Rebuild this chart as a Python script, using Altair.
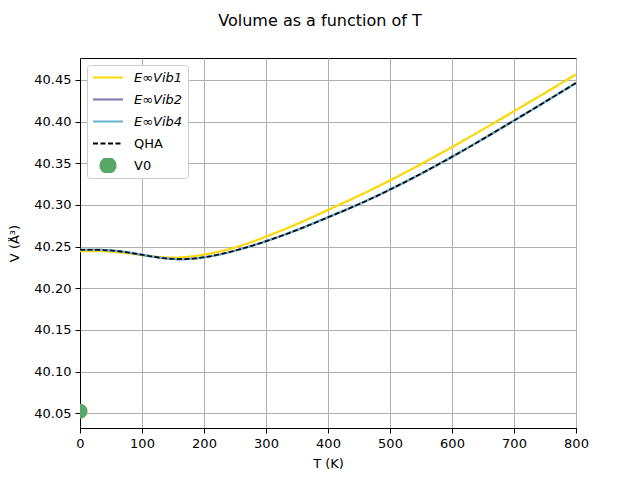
import altair as alt
import pandas as pd

# Temperature grid (K)
T = [0, 50, 100, 150, 200, 250, 300, 350, 400, 450, 500, 550, 600, 650, 700, 750, 800]

# Volumes (Å^3)
vib1 = [40.2446, 40.2440, 40.2398, 40.2368, 40.2405, 40.2490, 40.2620, 40.2772, 40.2940,
        40.3112, 40.3295, 40.3490, 40.3695, 40.3907, 40.4125, 40.4345, 40.4567]
vib2 = [40.2462, 40.2454, 40.2402, 40.2352, 40.2372, 40.2452, 40.2565, 40.2700, 40.2852,
        40.3010, 40.3185, 40.3375, 40.3578, 40.3792, 40.4013, 40.4237, 40.4464]
vib4 = [40.2462, 40.2454, 40.2402, 40.2352, 40.2372, 40.2452, 40.2565, 40.2700, 40.2852,
        40.3010, 40.3185, 40.3375, 40.3578, 40.3792, 40.4013, 40.4237, 40.4464]
qha = [40.2462, 40.2454, 40.2402, 40.2352, 40.2372, 40.2452, 40.2565, 40.2700, 40.2852,
       40.3010, 40.3185, 40.3375, 40.3578, 40.3792, 40.4013, 40.4237, 40.4464]

v0_T = [0]
v0_V = [40.0525]

names = ["E∞Vib1", "E∞Vib2", "E∞Vib4", "QHA", "V0"]
colors = ["#FFD700", "#8172B2", "#64B5CD", "#000000", "#55A868"]
dashes = [[1, 0], [1, 0], [1, 0], [5, 2.5], [1, 0]]
LINE_PATH = "M-1,0H1"
CIRCLE_PATH = "M0.5,0A0.5,0.5,0,1,1,-0.5,0A0.5,0.5,0,1,1,0.5,0Z"
shapes = [LINE_PATH, LINE_PATH, LINE_PATH, LINE_PATH, CIRCLE_PATH]

vib_df = pd.concat([
    pd.DataFrame({"T": T, "V": vib1, "series": names[0]}),
    pd.DataFrame({"T": T, "V": vib2, "series": names[1]}),
    pd.DataFrame({"T": T, "V": vib4, "series": names[2]}),
])
qha_df = pd.DataFrame({"T": T, "V": qha, "series": names[3]})
v0_df = pd.DataFrame({"T": v0_T, "V": v0_V, "series": names[4]})

FONT = "DejaVu Sans"

xs = alt.X("T:Q", title="T (K)",
           scale=alt.Scale(domain=[0, 800], nice=False, zero=False),
           axis=alt.Axis(values=list(range(0, 801, 100)), format="d"))
ys = alt.Y("V:Q", title="V (Å³)",
           scale=alt.Scale(domain=[40.0323, 40.4764], nice=False, zero=False),
           axis=alt.Axis(values=[40.05, 40.10, 40.15, 40.20, 40.25, 40.30, 40.35, 40.40, 40.45],
                         format=".2f"))

def leg():
    return alt.Legend(
        title=None, orient="none", legendX=7, legendY=7,
        labelFontStyle={"expr": "indexof(datum.label, 'Vib') >= 0 ? 'italic' : 'normal'"},
    )

color = alt.Color("series:N", scale=alt.Scale(domain=names, range=colors), legend=leg())
dash = alt.StrokeDash("series:N", scale=alt.Scale(domain=names, range=dashes), legend=leg())
shape = alt.Shape("series:N", scale=alt.Scale(domain=names, range=shapes), legend=leg())

base_lines = alt.Chart(vib_df).mark_line(strokeWidth=2.2, interpolate="natural", clip=True).encode(
    x=xs, y=ys, color=color, strokeDash=dash, detail="series:N"
)
qha_line = alt.Chart(qha_df).mark_line(strokeWidth=1.6, interpolate="natural", clip=True).encode(
    x=xs, y=ys, color=color, strokeDash=dash
)
v0_pt = alt.Chart(v0_df).mark_point(filled=True, size=900, opacity=1, clip=True).encode(
    x=xs, y=ys, color=color, shape=shape
)

chart = alt.layer(base_lines, qha_line, v0_pt).properties(
    width=496,
    height=370,
    autosize=alt.AutoSizeParams(type="none"),
    padding={"left": 72, "top": 50, "right": 56, "bottom": 44},
    title=alt.TitleParams("Volume as a function of T", fontSize=16, font=FONT,
                          fontWeight="normal", anchor="middle", offset=16,
                          baseline="alphabetic", dx=-8, color="#000000"),
).configure_view(
    stroke="#000000", strokeWidth=1
).configure_axis(
    labelFont=FONT, titleFont=FONT, labelFontSize=13, titleFontSize=13,
    labelColor="#000000", titleColor="#000000", titleFontWeight="normal",
    domainColor="#000000", tickColor="#000000", tickSize=5, domainWidth=1, tickWidth=1,
    grid=True, gridColor="#b0b0b0", gridWidth=1,
).configure_axisX(
    labelPadding=4, titlePadding=7, labelFlush=False, labelOverlap=False
).configure_axisY(
    labelPadding=4, titlePadding=12, labelOverlap=False
).configure_legend(
    labelFont=FONT, labelFontSize=13, labelColor="#000000",
    fillColor="#ffffff", strokeColor="#cccccc", cornerRadius=3,
    padding=5, symbolSize=900, clipHeight=15, rowPadding=7,
    labelOffset=10, symbolStrokeWidth=2,
)

chart.save("out.html", embed_options={"renderer": "svg", "actions": False})
